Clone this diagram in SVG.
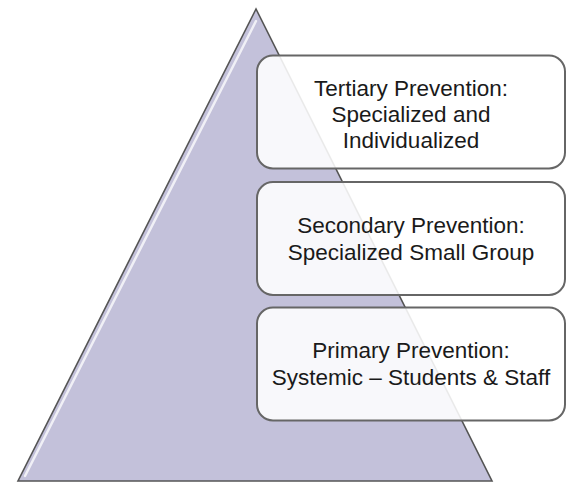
<svg xmlns="http://www.w3.org/2000/svg" width="571" height="483" viewBox="0 0 571 483">
  <style>
    .tri { fill: #c3c1da; stroke: #555555; stroke-width: 1.6; stroke-linejoin: miter; }
    .hl { fill: none; stroke: #ffffff; stroke-width: 2.5; stroke-opacity: 0.75; stroke-linecap: round; }
    .box { fill: #ffffff; fill-opacity: 0.88; stroke: #666666; stroke-width: 2; }
    .lbl { font-family: "Liberation Sans", Arial, sans-serif; font-size: 22.5px; fill: #1a1a1a; text-anchor: middle; }
  </style>
  <rect width="571" height="483" fill="#ffffff"/>
  <g id="pyramid">
    <polygon class="tri" points="256,9 18,481 492,481"/>
    <polyline class="hl" points="256,21 25,476"/>
  </g>
  <g id="connectors"></g>
  <g id="tertiary">
    <rect class="box" x="257" y="55.5" width="308" height="113" rx="16" ry="16"/>
    <text class="lbl" x="411" y="96">Tertiary Prevention:</text>
    <text class="lbl" x="411" y="122">Specialized and</text>
    <text class="lbl" x="411" y="148">Individualized</text>
  </g>
  <g id="secondary">
    <rect class="box" x="257" y="182" width="308" height="113" rx="16" ry="16"/>
    <text class="lbl" x="411" y="233">Secondary Prevention:</text>
    <text class="lbl" x="411" y="259.5">Specialized Small Group</text>
  </g>
  <g id="primary">
    <rect class="box" x="257" y="307.5" width="308" height="113" rx="16" ry="16"/>
    <text class="lbl" x="411" y="358">Primary Prevention:</text>
    <text class="lbl" x="411" y="385">Systemic – Students &amp; Staff</text>
  </g>
</svg>
